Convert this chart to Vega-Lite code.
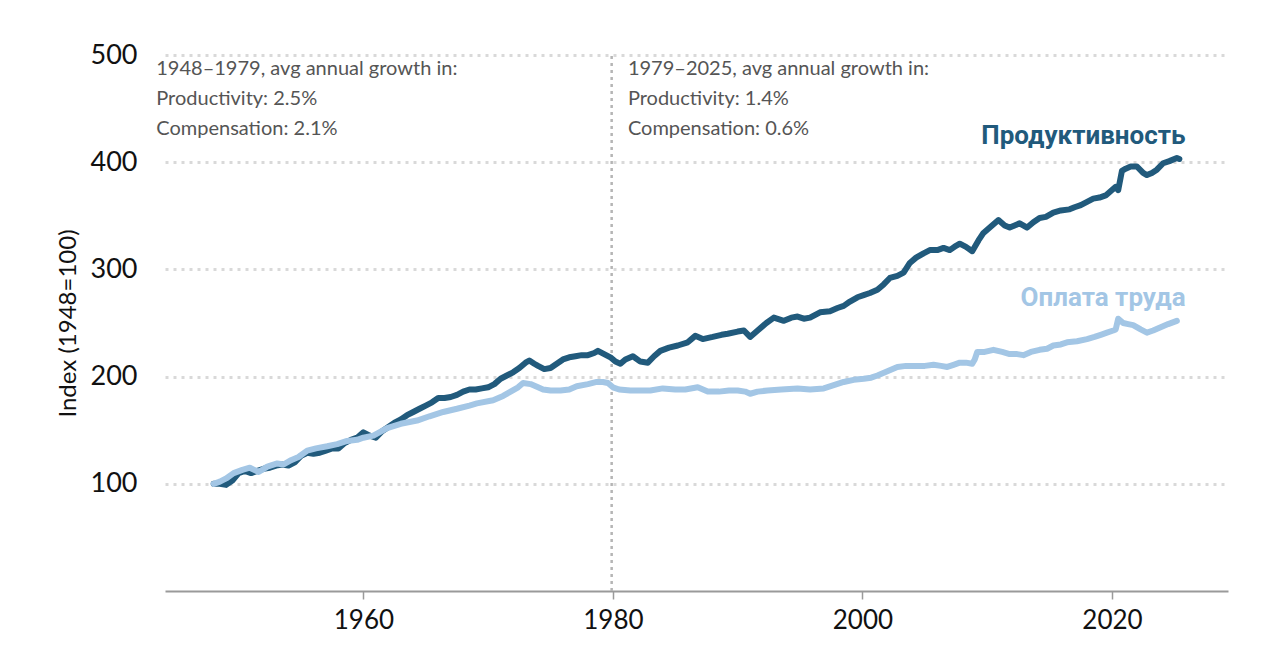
{
  "$schema": "https://vega.github.io/schema/vega-lite/v6.json",
  "width": 1063,
  "height": 536,
  "autosize": "none",
  "padding": {"left": 165, "top": 55, "right": 52, "bottom": 61},
  "background": "white",
  "config": {
    "view": {"stroke": null},
    "font": "Lato",
    "axis": {"labelFont": "Lato", "titleFont": "Lato"}
  },
  "datasets": {
    "series": [
      {"year": 1948.0, "value": 100, "series": "Productivity"},
      {"year": 1948.5, "value": 100, "series": "Productivity"},
      {"year": 1949.0, "value": 99, "series": "Productivity"},
      {"year": 1949.5, "value": 103, "series": "Productivity"},
      {"year": 1950.0, "value": 110, "series": "Productivity"},
      {"year": 1950.5, "value": 112, "series": "Productivity"},
      {"year": 1951.0, "value": 110, "series": "Productivity"},
      {"year": 1951.5, "value": 112, "series": "Productivity"},
      {"year": 1952.0, "value": 114, "series": "Productivity"},
      {"year": 1952.5, "value": 115, "series": "Productivity"},
      {"year": 1953.0, "value": 117, "series": "Productivity"},
      {"year": 1953.5, "value": 118, "series": "Productivity"},
      {"year": 1954.0, "value": 117, "series": "Productivity"},
      {"year": 1954.5, "value": 120, "series": "Productivity"},
      {"year": 1955.0, "value": 126, "series": "Productivity"},
      {"year": 1955.5, "value": 129, "series": "Productivity"},
      {"year": 1956.0, "value": 128, "series": "Productivity"},
      {"year": 1956.5, "value": 129, "series": "Productivity"},
      {"year": 1957.0, "value": 131, "series": "Productivity"},
      {"year": 1957.5, "value": 133, "series": "Productivity"},
      {"year": 1958.0, "value": 133, "series": "Productivity"},
      {"year": 1958.5, "value": 138, "series": "Productivity"},
      {"year": 1959.0, "value": 141, "series": "Productivity"},
      {"year": 1959.5, "value": 143, "series": "Productivity"},
      {"year": 1960.0, "value": 148, "series": "Productivity"},
      {"year": 1960.5, "value": 145, "series": "Productivity"},
      {"year": 1961.0, "value": 143, "series": "Productivity"},
      {"year": 1961.5, "value": 149, "series": "Productivity"},
      {"year": 1962.0, "value": 153, "series": "Productivity"},
      {"year": 1962.5, "value": 157, "series": "Productivity"},
      {"year": 1963.0, "value": 160, "series": "Productivity"},
      {"year": 1963.5, "value": 164, "series": "Productivity"},
      {"year": 1964.0, "value": 167, "series": "Productivity"},
      {"year": 1964.5, "value": 170, "series": "Productivity"},
      {"year": 1965.0, "value": 173, "series": "Productivity"},
      {"year": 1965.5, "value": 176, "series": "Productivity"},
      {"year": 1966.0, "value": 180, "series": "Productivity"},
      {"year": 1966.5, "value": 180, "series": "Productivity"},
      {"year": 1967.0, "value": 181, "series": "Productivity"},
      {"year": 1967.5, "value": 183, "series": "Productivity"},
      {"year": 1968.0, "value": 186, "series": "Productivity"},
      {"year": 1968.5, "value": 188, "series": "Productivity"},
      {"year": 1969.0, "value": 188, "series": "Productivity"},
      {"year": 1969.5, "value": 189, "series": "Productivity"},
      {"year": 1970.0, "value": 190, "series": "Productivity"},
      {"year": 1970.5, "value": 193, "series": "Productivity"},
      {"year": 1971.0, "value": 198, "series": "Productivity"},
      {"year": 1971.5, "value": 201, "series": "Productivity"},
      {"year": 1972.0, "value": 204, "series": "Productivity"},
      {"year": 1972.5, "value": 208, "series": "Productivity"},
      {"year": 1973.0, "value": 213, "series": "Productivity"},
      {"year": 1973.3, "value": 215, "series": "Productivity"},
      {"year": 1973.7, "value": 212, "series": "Productivity"},
      {"year": 1974.0, "value": 210, "series": "Productivity"},
      {"year": 1974.5, "value": 207, "series": "Productivity"},
      {"year": 1975.0, "value": 208, "series": "Productivity"},
      {"year": 1975.5, "value": 212, "series": "Productivity"},
      {"year": 1976.0, "value": 216, "series": "Productivity"},
      {"year": 1976.5, "value": 218, "series": "Productivity"},
      {"year": 1977.0, "value": 219, "series": "Productivity"},
      {"year": 1977.5, "value": 220, "series": "Productivity"},
      {"year": 1978.0, "value": 220, "series": "Productivity"},
      {"year": 1978.5, "value": 222, "series": "Productivity"},
      {"year": 1978.8, "value": 224, "series": "Productivity"},
      {"year": 1979.3, "value": 221, "series": "Productivity"},
      {"year": 1979.8, "value": 218, "series": "Productivity"},
      {"year": 1980.2, "value": 214, "series": "Productivity"},
      {"year": 1980.6, "value": 212, "series": "Productivity"},
      {"year": 1981.0, "value": 216, "series": "Productivity"},
      {"year": 1981.6, "value": 219, "series": "Productivity"},
      {"year": 1982.2, "value": 214, "series": "Productivity"},
      {"year": 1982.8, "value": 213, "series": "Productivity"},
      {"year": 1983.3, "value": 219, "series": "Productivity"},
      {"year": 1983.8, "value": 224, "series": "Productivity"},
      {"year": 1984.5, "value": 227, "series": "Productivity"},
      {"year": 1985.2, "value": 229, "series": "Productivity"},
      {"year": 1986.0, "value": 232, "series": "Productivity"},
      {"year": 1986.6, "value": 238, "series": "Productivity"},
      {"year": 1987.2, "value": 235, "series": "Productivity"},
      {"year": 1988.0, "value": 237, "series": "Productivity"},
      {"year": 1988.7, "value": 239, "series": "Productivity"},
      {"year": 1989.2, "value": 240, "series": "Productivity"},
      {"year": 1990.0, "value": 242, "series": "Productivity"},
      {"year": 1990.5, "value": 243, "series": "Productivity"},
      {"year": 1991.0, "value": 237, "series": "Productivity"},
      {"year": 1991.6, "value": 243, "series": "Productivity"},
      {"year": 1992.3, "value": 250, "series": "Productivity"},
      {"year": 1992.9, "value": 255, "series": "Productivity"},
      {"year": 1993.7, "value": 252, "series": "Productivity"},
      {"year": 1994.3, "value": 255, "series": "Productivity"},
      {"year": 1994.8, "value": 256, "series": "Productivity"},
      {"year": 1995.3, "value": 254, "series": "Productivity"},
      {"year": 1995.8, "value": 255, "series": "Productivity"},
      {"year": 1996.6, "value": 260, "series": "Productivity"},
      {"year": 1997.4, "value": 261, "series": "Productivity"},
      {"year": 1998.0, "value": 264, "series": "Productivity"},
      {"year": 1998.5, "value": 266, "series": "Productivity"},
      {"year": 1999.0, "value": 270, "series": "Productivity"},
      {"year": 1999.6, "value": 274, "series": "Productivity"},
      {"year": 2000.1, "value": 276, "series": "Productivity"},
      {"year": 2000.6, "value": 278, "series": "Productivity"},
      {"year": 2001.2, "value": 281, "series": "Productivity"},
      {"year": 2001.7, "value": 286, "series": "Productivity"},
      {"year": 2002.2, "value": 292, "series": "Productivity"},
      {"year": 2002.8, "value": 294, "series": "Productivity"},
      {"year": 2003.3, "value": 297, "series": "Productivity"},
      {"year": 2003.8, "value": 306, "series": "Productivity"},
      {"year": 2004.3, "value": 311, "series": "Productivity"},
      {"year": 2004.9, "value": 315, "series": "Productivity"},
      {"year": 2005.4, "value": 318, "series": "Productivity"},
      {"year": 2006.0, "value": 318, "series": "Productivity"},
      {"year": 2006.5, "value": 320, "series": "Productivity"},
      {"year": 2007.0, "value": 318, "series": "Productivity"},
      {"year": 2007.5, "value": 322, "series": "Productivity"},
      {"year": 2007.8, "value": 324, "series": "Productivity"},
      {"year": 2008.3, "value": 321, "series": "Productivity"},
      {"year": 2008.8, "value": 317, "series": "Productivity"},
      {"year": 2009.3, "value": 327, "series": "Productivity"},
      {"year": 2009.7, "value": 334, "series": "Productivity"},
      {"year": 2010.3, "value": 340, "series": "Productivity"},
      {"year": 2010.9, "value": 346, "series": "Productivity"},
      {"year": 2011.4, "value": 341, "series": "Productivity"},
      {"year": 2011.8, "value": 339, "series": "Productivity"},
      {"year": 2012.2, "value": 341, "series": "Productivity"},
      {"year": 2012.6, "value": 343, "series": "Productivity"},
      {"year": 2013.2, "value": 339, "series": "Productivity"},
      {"year": 2013.7, "value": 344, "series": "Productivity"},
      {"year": 2014.2, "value": 348, "series": "Productivity"},
      {"year": 2014.7, "value": 349, "series": "Productivity"},
      {"year": 2015.3, "value": 353, "series": "Productivity"},
      {"year": 2015.9, "value": 355, "series": "Productivity"},
      {"year": 2016.6, "value": 356, "series": "Productivity"},
      {"year": 2017.0, "value": 358, "series": "Productivity"},
      {"year": 2017.5, "value": 360, "series": "Productivity"},
      {"year": 2018.0, "value": 363, "series": "Productivity"},
      {"year": 2018.5, "value": 366, "series": "Productivity"},
      {"year": 2019.0, "value": 367, "series": "Productivity"},
      {"year": 2019.5, "value": 369, "series": "Productivity"},
      {"year": 2020.0, "value": 374, "series": "Productivity"},
      {"year": 2020.3, "value": 377, "series": "Productivity"},
      {"year": 2020.5, "value": 374, "series": "Productivity"},
      {"year": 2020.8, "value": 392, "series": "Productivity"},
      {"year": 2021.1, "value": 394, "series": "Productivity"},
      {"year": 2021.5, "value": 396, "series": "Productivity"},
      {"year": 2022.0, "value": 396, "series": "Productivity"},
      {"year": 2022.5, "value": 390, "series": "Productivity"},
      {"year": 2022.8, "value": 388, "series": "Productivity"},
      {"year": 2023.2, "value": 390, "series": "Productivity"},
      {"year": 2023.6, "value": 393, "series": "Productivity"},
      {"year": 2024.1, "value": 399, "series": "Productivity"},
      {"year": 2024.6, "value": 401, "series": "Productivity"},
      {"year": 2025.2, "value": 404, "series": "Productivity"},
      {"year": 2025.4, "value": 403, "series": "Productivity"},

      {"year": 1948.0, "value": 100, "series": "Compensation"},
      {"year": 1948.5, "value": 102, "series": "Compensation"},
      {"year": 1949.0, "value": 105, "series": "Compensation"},
      {"year": 1949.6, "value": 110, "series": "Compensation"},
      {"year": 1950.3, "value": 113, "series": "Compensation"},
      {"year": 1950.9, "value": 115, "series": "Compensation"},
      {"year": 1951.6, "value": 111, "series": "Compensation"},
      {"year": 1952.3, "value": 116, "series": "Compensation"},
      {"year": 1953.1, "value": 119, "series": "Compensation"},
      {"year": 1953.6, "value": 118, "series": "Compensation"},
      {"year": 1954.2, "value": 122, "series": "Compensation"},
      {"year": 1954.8, "value": 125, "series": "Compensation"},
      {"year": 1955.5, "value": 131, "series": "Compensation"},
      {"year": 1956.2, "value": 133, "series": "Compensation"},
      {"year": 1957.1, "value": 135, "series": "Compensation"},
      {"year": 1957.9, "value": 137, "series": "Compensation"},
      {"year": 1958.7, "value": 140, "series": "Compensation"},
      {"year": 1959.5, "value": 141, "series": "Compensation"},
      {"year": 1960.0, "value": 143, "series": "Compensation"},
      {"year": 1960.8, "value": 145, "series": "Compensation"},
      {"year": 1961.9, "value": 152, "series": "Compensation"},
      {"year": 1963.0, "value": 156, "series": "Compensation"},
      {"year": 1964.3, "value": 159, "series": "Compensation"},
      {"year": 1965.3, "value": 163, "series": "Compensation"},
      {"year": 1966.4, "value": 167, "series": "Compensation"},
      {"year": 1967.5, "value": 170, "series": "Compensation"},
      {"year": 1968.5, "value": 173, "series": "Compensation"},
      {"year": 1969.1, "value": 175, "series": "Compensation"},
      {"year": 1970.4, "value": 178, "series": "Compensation"},
      {"year": 1971.2, "value": 182, "series": "Compensation"},
      {"year": 1971.8, "value": 186, "series": "Compensation"},
      {"year": 1972.4, "value": 190, "series": "Compensation"},
      {"year": 1972.8, "value": 194, "series": "Compensation"},
      {"year": 1973.4, "value": 193, "series": "Compensation"},
      {"year": 1974.0, "value": 190, "series": "Compensation"},
      {"year": 1974.4, "value": 188, "series": "Compensation"},
      {"year": 1975.0, "value": 187, "series": "Compensation"},
      {"year": 1975.8, "value": 187, "series": "Compensation"},
      {"year": 1976.5, "value": 188, "series": "Compensation"},
      {"year": 1977.1, "value": 191, "series": "Compensation"},
      {"year": 1978.0, "value": 193, "series": "Compensation"},
      {"year": 1978.7, "value": 195, "series": "Compensation"},
      {"year": 1979.2, "value": 195, "series": "Compensation"},
      {"year": 1979.6, "value": 194, "series": "Compensation"},
      {"year": 1980.0, "value": 190, "series": "Compensation"},
      {"year": 1980.5, "value": 188, "series": "Compensation"},
      {"year": 1981.4, "value": 187, "series": "Compensation"},
      {"year": 1982.0, "value": 187, "series": "Compensation"},
      {"year": 1983.0, "value": 187, "series": "Compensation"},
      {"year": 1984.0, "value": 189, "series": "Compensation"},
      {"year": 1985.0, "value": 188, "series": "Compensation"},
      {"year": 1985.8, "value": 188, "series": "Compensation"},
      {"year": 1986.8, "value": 190, "series": "Compensation"},
      {"year": 1987.6, "value": 186, "series": "Compensation"},
      {"year": 1988.5, "value": 186, "series": "Compensation"},
      {"year": 1989.3, "value": 187, "series": "Compensation"},
      {"year": 1990.0, "value": 187, "series": "Compensation"},
      {"year": 1990.6, "value": 186, "series": "Compensation"},
      {"year": 1991.0, "value": 184, "series": "Compensation"},
      {"year": 1991.6, "value": 186, "series": "Compensation"},
      {"year": 1992.4, "value": 187, "series": "Compensation"},
      {"year": 1993.5, "value": 188, "series": "Compensation"},
      {"year": 1994.8, "value": 189, "series": "Compensation"},
      {"year": 1995.8, "value": 188, "series": "Compensation"},
      {"year": 1996.9, "value": 189, "series": "Compensation"},
      {"year": 1997.7, "value": 192, "series": "Compensation"},
      {"year": 1998.5, "value": 195, "series": "Compensation"},
      {"year": 1999.3, "value": 197, "series": "Compensation"},
      {"year": 2000.1, "value": 198, "series": "Compensation"},
      {"year": 2000.7, "value": 199, "series": "Compensation"},
      {"year": 2001.2, "value": 201, "series": "Compensation"},
      {"year": 2002.0, "value": 205, "series": "Compensation"},
      {"year": 2002.8, "value": 209, "series": "Compensation"},
      {"year": 2003.5, "value": 210, "series": "Compensation"},
      {"year": 2004.3, "value": 210, "series": "Compensation"},
      {"year": 2005.0, "value": 210, "series": "Compensation"},
      {"year": 2005.7, "value": 211, "series": "Compensation"},
      {"year": 2006.3, "value": 210, "series": "Compensation"},
      {"year": 2006.8, "value": 209, "series": "Compensation"},
      {"year": 2007.3, "value": 211, "series": "Compensation"},
      {"year": 2007.8, "value": 213, "series": "Compensation"},
      {"year": 2008.3, "value": 213, "series": "Compensation"},
      {"year": 2008.8, "value": 212, "series": "Compensation"},
      {"year": 2009.0, "value": 216, "series": "Compensation"},
      {"year": 2009.2, "value": 223, "series": "Compensation"},
      {"year": 2009.8, "value": 223, "series": "Compensation"},
      {"year": 2010.5, "value": 225, "series": "Compensation"},
      {"year": 2011.2, "value": 223, "series": "Compensation"},
      {"year": 2011.8, "value": 221, "series": "Compensation"},
      {"year": 2012.4, "value": 221, "series": "Compensation"},
      {"year": 2012.9, "value": 220, "series": "Compensation"},
      {"year": 2013.5, "value": 223, "series": "Compensation"},
      {"year": 2014.2, "value": 225, "series": "Compensation"},
      {"year": 2014.8, "value": 226, "series": "Compensation"},
      {"year": 2015.3, "value": 229, "series": "Compensation"},
      {"year": 2015.9, "value": 230, "series": "Compensation"},
      {"year": 2016.4, "value": 232, "series": "Compensation"},
      {"year": 2017.2, "value": 233, "series": "Compensation"},
      {"year": 2018.0, "value": 235, "series": "Compensation"},
      {"year": 2018.6, "value": 237, "series": "Compensation"},
      {"year": 2019.1, "value": 239, "series": "Compensation"},
      {"year": 2019.6, "value": 241, "series": "Compensation"},
      {"year": 2020.1, "value": 243, "series": "Compensation"},
      {"year": 2020.3, "value": 244, "series": "Compensation"},
      {"year": 2020.5, "value": 254, "series": "Compensation"},
      {"year": 2020.9, "value": 250, "series": "Compensation"},
      {"year": 2021.3, "value": 249, "series": "Compensation"},
      {"year": 2021.7, "value": 248, "series": "Compensation"},
      {"year": 2022.3, "value": 244, "series": "Compensation"},
      {"year": 2022.8, "value": 241, "series": "Compensation"},
      {"year": 2023.3, "value": 243, "series": "Compensation"},
      {"year": 2023.9, "value": 246, "series": "Compensation"},
      {"year": 2024.5, "value": 249, "series": "Compensation"},
      {"year": 2025.2, "value": 252, "series": "Compensation"}
    ],
    "notes": [
      {"year": 1943.4, "value": 487, "text": "1948–1979, avg annual growth in:"},
      {"year": 1943.4, "value": 459, "text": "Productivity: 2.5%"},
      {"year": 1943.4, "value": 431, "text": "Compensation: 2.1%"},
      {"year": 1981.2, "value": 487, "text": "1979–2025, avg annual growth in:"},
      {"year": 1981.2, "value": 459, "text": "Productivity: 1.4%"},
      {"year": 1981.2, "value": 431, "text": "Compensation: 0.6%"}
    ],
    "labels": [
      {"year": 2025.9, "value": 424, "text": "Продуктивность", "series": "Productivity"},
      {"year": 2025.9, "value": 273, "text": "Оплата труда", "series": "Compensation"}
    ],
    "divider": [
      {"year": 1979.9}
    ]
  },
  "encoding": {
    "x": {
      "field": "year",
      "type": "quantitative",
      "scale": {"domain": [1944.1, 2029.3], "nice": false, "zero": false},
      "axis": {
        "title": null,
        "values": [1960, 1980, 2000, 2020],
        "format": "d",
        "grid": false,
        "domainColor": "#9a9a9a",
        "domainWidth": 2,
        "tickColor": "#9a9a9a",
        "tickWidth": 1.5,
        "tickSize": 8,
        "labelFontSize": 26,
        "labelColor": "#111111",
        "labelPadding": 8
      }
    }
  },
  "layer": [
    {
      "data": {"name": "divider"},
      "mark": {"type": "rule", "color": "#b5b5b5", "strokeWidth": 2.5, "strokeDash": [3, 4]},
      "encoding": {
        "x": {"field": "year", "type": "quantitative"},
        "y": {"datum": 0, "type": "quantitative"},
        "y2": {"datum": 500}
      }
    },
    {
      "data": {"name": "series"},
      "mark": {"type": "line", "strokeWidth": 6, "strokeCap": "round", "strokeJoin": "round"},
      "encoding": {
        "y": {
          "field": "value",
          "type": "quantitative",
          "scale": {"domain": [0, 500], "nice": false},
          "axis": {
            "title": "Index (1948=100)",
            "titleFontSize": 24,
            "titleFontWeight": "normal",
            "titleColor": "#111111",
            "titlePadding": 10,
            "values": [100, 200, 300, 400, 500],
            "grid": true,
            "gridColor": "#d9d9d9",
            "gridWidth": 3,
            "gridDash": [3, 5],
            "domain": false,
            "ticks": false,
            "labelFontSize": 27,
            "labelColor": "#111111",
            "labelPadding": 28
          }
        },
        "color": {
          "field": "series",
          "type": "nominal",
          "scale": {"domain": ["Compensation", "Productivity"], "range": ["#a3c6e5", "#215a7c"]},
          "legend": null
        },
        "order": {"field": "year", "type": "quantitative"}
      }
    },
    {
      "data": {"name": "notes"},
      "mark": {"type": "text", "align": "left", "baseline": "middle", "fontSize": 20, "color": "#555555", "font": "Lato"},
      "encoding": {
        "y": {"field": "value", "type": "quantitative"},
        "text": {"field": "text", "type": "nominal"}
      }
    },
    {
      "data": {"name": "labels"},
      "mark": {"type": "text", "align": "right", "baseline": "middle", "fontSize": 26, "fontWeight": "bold", "font": "Roboto"},
      "encoding": {
        "y": {"field": "value", "type": "quantitative"},
        "text": {"field": "text", "type": "nominal"},
        "color": {"field": "series", "type": "nominal", "legend": null}
      }
    }
  ]
}
